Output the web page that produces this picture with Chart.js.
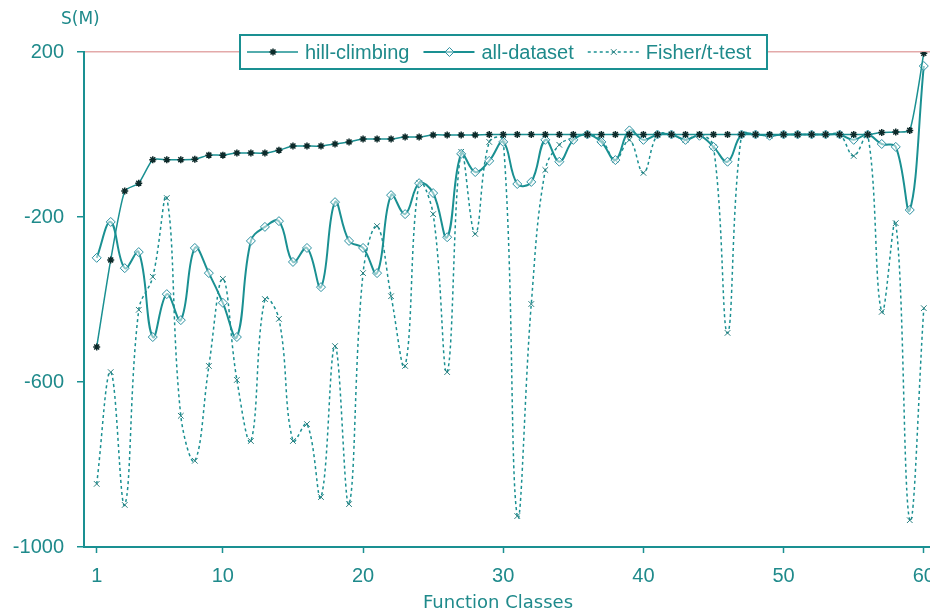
<!DOCTYPE html>
<html>
<head>
<meta charset="utf-8">
<script src="https://cdn.jsdelivr.net/npm/chart.js@4/dist/chart.umd.min.js"></script>
<style>
  html, body { margin: 0; padding: 0; background: #fff; overflow: hidden; }
  #wrap { width: 960px; height: 613px; }
</style>
</head>
<body>
<div id="wrap"><canvas id="chart" width="960" height="613"></canvas></div>
<script>
// values
const classes = Array.from({ length: 60 }, (_, i) => i + 1);

const hillClimbing = [
  -515, -304, -137, -118, -61, -61, -61, -60, -50, -50,
  -45, -45, -45, -38, -28, -28, -28, -23, -18, -11,
  -11, -11, -6, -6, -1, -1, -1, -1, 0, 0,
  0, 0, 0, 0, 0, 0, 0, 0, 0, 0,
  0, 0, 0, 0, 0, 0, 0, 0, 0, 0,
  0, 0, 0, 0, 0, 0, 5, 6, 10, 197
];

const allDataset = [
  -299, -212, -324, -285, -491, -387, -450, -275, -336, -408,
  -491, -258, -224, -210, -309, -275, -370, -164, -258, -275,
  -336, -147, -193, -118, -142, -249, -47, -91, -64, -18,
  -120, -115, -13, -66, -13, 0, -18, -62, 10, -13,
  0, 0, -13, -3, -30, -66, 0, 0, -3, 0,
  0, 0, 0, 0, -13, 0, -23, -30, -183, 166
];

const fisherTTest = [
  -847, -576, -898, -425, -345, -154, -682, -791, -561, -350,
  -595, -743, -399, -447, -743, -702, -879, -513, -896, -336,
  -222, -392, -561, -118, -193, -576, -42, -241, -18, -13,
  -925, -411, -86, -25, -8, 0, -13, -62, -13, -93,
  -1, 0, -13, 0, -30, -481, 0, 0, -3, 0,
  0, 0, 0, 0, -52, 0, -430, -215, -935, -421
];

const xTicks = [1, 10, 20, 30, 40, 50, 60];
const yTicks = [-1000, -600, -200, 200];

const TEAL = '#1a9092';
const TEXT = '#1f8a8b';
const PINK = '#e3a9a9';

const pts = arr => arr.map((v, i) => ({ x: classes[i], y: v }));

// titles and the legend box that sits on the top border
const decorPlugin = {
  id: 'decor',
  afterDraw(chart) {
    const ctx = chart.ctx;
    ctx.save();
    ctx.fillStyle = TEXT;
    ctx.font = '17px "DejaVu Sans"';
    ctx.textBaseline = 'middle';
    ctx.textAlign = 'left';
    ctx.fillText('S(M)', 61, 20);
    ctx.font = '18px "DejaVu Sans"';
    ctx.textAlign = 'center';
    ctx.fillText('Function Classes', 498, 603);

    // legend
    const box = { x: 240, y: 35, w: 527, h: 34 };
    ctx.fillStyle = '#fff';
    ctx.fillRect(box.x, box.y, box.w, box.h);
    ctx.lineWidth = 2;
    ctx.strokeStyle = TEAL;
    ctx.strokeRect(box.x, box.y, box.w, box.h);

    ctx.font = '20px "Liberation Sans", Arial';
    ctx.textAlign = 'left';
    const cy = box.y + box.h / 2;
    let x = 247;
    chart.data.datasets.forEach(ds => {
      ctx.save();
      ctx.strokeStyle = ds.borderColor;
      ctx.lineWidth = ds.borderWidth;
      ctx.setLineDash(ds.borderDash || []);
      ctx.beginPath();
      ctx.moveTo(x, cy);
      ctx.lineTo(x + 51, cy);
      ctx.stroke();
      ctx.restore();
      ctx.save();
      ctx.strokeStyle = ds.pointBorderColor;
      ctx.fillStyle = ds.pointBackgroundColor;
      ctx.lineWidth = ds.pointBorderWidth;
      Chart.helpers.drawPoint(ctx, {
        pointStyle: ds.pointStyle,
        radius: ds.pointRadius,
        borderWidth: ds.pointBorderWidth,
        rotation: 0
      }, x + 26, cy);
      ctx.restore();
      ctx.fillStyle = TEXT;
      ctx.fillText(ds.label, x + 58, cy + 1);
      x += 58 + ctx.measureText(ds.label).width + 14;
    });
    ctx.restore();
  }
};

new Chart(document.getElementById('chart'), {
  type: 'line',
  data: {
    datasets: [
      {
        label: 'hill-climbing',
        data: pts(hillClimbing),
        borderColor: TEAL,
        borderWidth: 1.5,
        tension: 0.2,
        pointStyle: 'star',
        pointRadius: 3.5,
        pointBorderWidth: 1.5,
        pointBorderColor: '#0d2a2a',
        pointBackgroundColor: '#0d2a2a'
      },
      {
        label: 'all-dataset',
        data: pts(allDataset),
        borderColor: TEAL,
        borderWidth: 2,
        tension: 0.4,
        pointStyle: 'rectRot',
        pointRadius: 4.5,
        pointBorderWidth: 1,
        pointBorderColor: '#2a8fa0',
        pointBackgroundColor: 'rgba(255,255,255,0.5)'
      },
      {
        label: 'Fisher/t-test',
        data: pts(fisherTTest),
        borderColor: TEAL,
        borderWidth: 1.5,
        borderDash: [3, 3],
        tension: 0.4,
        pointStyle: 'crossRot',
        pointRadius: 4,
        pointBorderWidth: 1,
        pointBorderColor: '#2a7f80',
        pointBackgroundColor: '#2a7f80'
      }
    ]
  },
  options: {
    responsive: false,
    animation: false,
    events: [],
    layout: { padding: { top: 52, left: 0, right: 0, bottom: 0 } },
    plugins: { legend: { display: false }, tooltip: { enabled: false } },
    scales: {
      x: {
        type: 'linear',
        min: 0.094,
        max: 62.19,
        afterBuildTicks: s => { s.ticks = xTicks.map(v => ({ value: v })); },
        afterFit: s => { s.height = 66; },
        border: { color: TEAL, width: 2 },
        grid: { color: 'transparent', tickColor: TEAL, tickLength: 6, tickWidth: 1.5 },
        ticks: {
          color: TEXT,
          font: { family: '"Liberation Sans", Arial', size: 20 },
          padding: 11,
          maxRotation: 0,
          callback: v => String(v)
        }
      },
      y: {
        min: -1000,
        max: 200,
        afterBuildTicks: s => { s.ticks = yTicks.map(v => ({ value: v })); },
        afterFit: s => { s.width = 84; },
        border: { color: TEAL, width: 2 },
        grid: {
          color: c => (c.tick && c.tick.value === 200 ? PINK : 'transparent'),
          lineWidth: 1.5,
          tickColor: TEAL,
          tickLength: 7,
          tickWidth: 1.5
        },
        ticks: {
          color: TEXT,
          font: { family: '"Liberation Sans", Arial', size: 20 },
          padding: 13,
          callback: v => String(v)
        }
      }
    }
  },
  plugins: [decorPlugin]
});
</script>
</body>
</html>
